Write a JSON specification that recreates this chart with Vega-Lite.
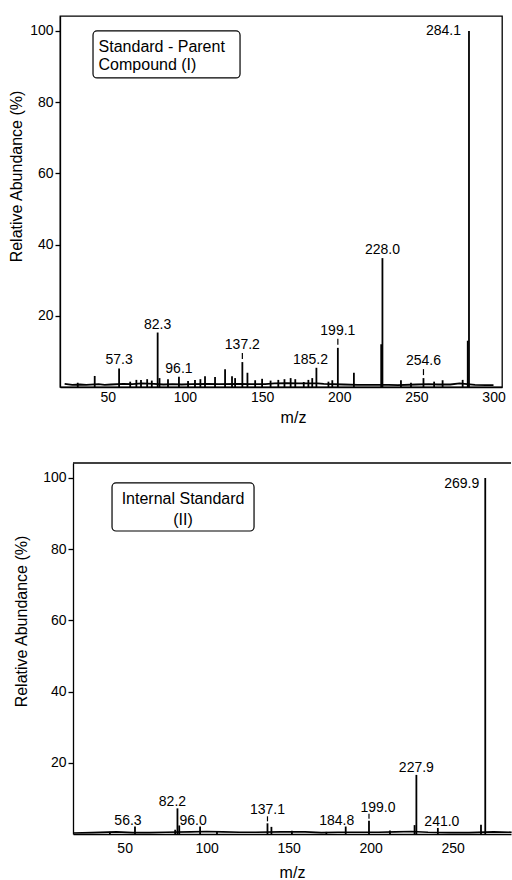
{
  "$schema": "https://vega.github.io/schema/vega-lite/v6.json",
  "background": "white",
  "padding": {"left": 7, "top": 15, "right": 0, "bottom": 0},
  "config": {
    "font": "Liberation Sans",
    "view": {"stroke": "black", "strokeWidth": 1.3},
    "axis": {
      "grid": false,
      "labelFont": "Liberation Sans",
      "titleFont": "Liberation Sans",
      "labelColor": "black",
      "titleColor": "black",
      "domainColor": "black",
      "tickColor": "black",
      "domainWidth": 1.3,
      "tickWidth": 1.3,
      "labelFontSize": 14,
      "titleFontSize": 16,
      "titleFontWeight": "normal"
    },
    "text": {"font": "Liberation Sans", "color": "black", "fontSize": 14},
    "rule": {"color": "black"}
  },
  "datasets": {
    "peaksI": [
      {"mz": 30.5, "ab": 1.2}, {"mz": 41.5, "ab": 3.1}, {"mz": 57.3, "ab": 5.2, "label": "57.3"},
      {"mz": 64.5, "ab": 1.5}, {"mz": 68.5, "ab": 2.0}, {"mz": 71.5, "ab": 2.0}, {"mz": 75.5, "ab": 2.2},
      {"mz": 78.5, "ab": 1.8}, {"mz": 82.3, "ab": 15.3, "label": "82.3"}, {"mz": 83.5, "ab": 2.5},
      {"mz": 89, "ab": 2.2}, {"mz": 96.1, "ab": 2.9, "label": "96.1"}, {"mz": 102, "ab": 1.7},
      {"mz": 106.5, "ab": 2.0}, {"mz": 110, "ab": 2.2}, {"mz": 113, "ab": 3.0}, {"mz": 119.5, "ab": 2.8},
      {"mz": 126, "ab": 5.0}, {"mz": 130.5, "ab": 3.0}, {"mz": 132.5, "ab": 2.5},
      {"mz": 137.2, "ab": 7.0, "label": "137.2"}, {"mz": 140.5, "ab": 4.0}, {"mz": 145.5, "ab": 1.9},
      {"mz": 150, "ab": 2.3}, {"mz": 155.5, "ab": 1.8}, {"mz": 160.5, "ab": 2.0}, {"mz": 164.5, "ab": 2.2},
      {"mz": 168.5, "ab": 2.5}, {"mz": 171.5, "ab": 2.2}, {"mz": 177, "ab": 1.4}, {"mz": 180, "ab": 2.0},
      {"mz": 182.5, "ab": 2.5}, {"mz": 185.2, "ab": 5.4, "label": "185.2"}, {"mz": 193, "ab": 1.5},
      {"mz": 195.5, "ab": 1.9}, {"mz": 199.1, "ab": 11.0, "label": "199.1"}, {"mz": 209.5, "ab": 4.0},
      {"mz": 227.2, "ab": 12.0}, {"mz": 228.0, "ab": 36.2, "label": "228.0"}, {"mz": 240, "ab": 1.9},
      {"mz": 246.5, "ab": 1.2}, {"mz": 254.6, "ab": 2.5, "label": "254.6"}, {"mz": 261.5, "ab": 1.5},
      {"mz": 267, "ab": 1.9}, {"mz": 280, "ab": 2.0}, {"mz": 283.3, "ab": 13.0},
      {"mz": 284.1, "ab": 100, "label": "284.1"}
    ],
    "baseI": [
      {"mz": 22, "ab": 0.9}, {"mz": 27, "ab": 0.6}, {"mz": 32, "ab": 0.7}, {"mz": 36, "ab": 0.6},
      {"mz": 44, "ab": 0.8}, {"mz": 48, "ab": 0.6}, {"mz": 52, "ab": 0.7}, {"mz": 60, "ab": 0.9},
      {"mz": 66, "ab": 0.8}, {"mz": 72, "ab": 1.0}, {"mz": 80, "ab": 0.9}, {"mz": 86, "ab": 0.7},
      {"mz": 92, "ab": 0.8}, {"mz": 98, "ab": 0.7}, {"mz": 104, "ab": 0.8}, {"mz": 115, "ab": 0.9},
      {"mz": 122, "ab": 0.8}, {"mz": 135, "ab": 0.9}, {"mz": 143, "ab": 0.8}, {"mz": 152, "ab": 0.8},
      {"mz": 158, "ab": 1.0}, {"mz": 166, "ab": 1.1}, {"mz": 174, "ab": 1.0}, {"mz": 186, "ab": 1.0},
      {"mz": 190, "ab": 0.9}, {"mz": 203, "ab": 0.7}, {"mz": 212, "ab": 0.6}, {"mz": 220, "ab": 0.6},
      {"mz": 232, "ab": 0.6}, {"mz": 238, "ab": 0.5}, {"mz": 250, "ab": 0.7}, {"mz": 258, "ab": 0.8},
      {"mz": 264, "ab": 0.7}, {"mz": 272, "ab": 0.7}, {"mz": 278, "ab": 1.0}, {"mz": 288, "ab": 0.6},
      {"mz": 295, "ab": 0.5}, {"mz": 300, "ab": 0.5}
    ],
    "peaksII": [
      {"mz": 41, "ab": 0.6}, {"mz": 56.3, "ab": 2.1, "label": "56.3"}, {"mz": 80.8, "ab": 1.2},
      {"mz": 82.2, "ab": 7.2, "label": "82.2"}, {"mz": 83.3, "ab": 2.4}, {"mz": 96.0, "ab": 2.1, "label": "96.0"},
      {"mz": 106.3, "ab": 0.7}, {"mz": 137.1, "ab": 3.0, "label": "137.1"}, {"mz": 139.5, "ab": 2.0},
      {"mz": 152, "ab": 0.9}, {"mz": 173, "ab": 0.6}, {"mz": 184.8, "ab": 2.1, "label": "184.8"},
      {"mz": 199.0, "ab": 3.7, "label": "199.0"}, {"mz": 211.8, "ab": 1.0}, {"mz": 226.8, "ab": 2.5},
      {"mz": 227.9, "ab": 16.6, "label": "227.9"}, {"mz": 241.0, "ab": 1.7, "label": "241.0"},
      {"mz": 267.3, "ab": 2.6}, {"mz": 269.9, "ab": 100, "label": "269.9"}
    ],
    "baseII": [
      {"mz": 18.5, "ab": 0.3}, {"mz": 30, "ab": 0.4}, {"mz": 45, "ab": 0.6}, {"mz": 55, "ab": 0.4},
      {"mz": 65, "ab": 0.4}, {"mz": 75, "ab": 0.5}, {"mz": 90, "ab": 0.6}, {"mz": 100, "ab": 0.7},
      {"mz": 110, "ab": 0.6}, {"mz": 120, "ab": 0.5}, {"mz": 130, "ab": 0.5}, {"mz": 145, "ab": 0.6},
      {"mz": 160, "ab": 0.6}, {"mz": 170, "ab": 0.4}, {"mz": 180, "ab": 0.5}, {"mz": 192, "ab": 0.5},
      {"mz": 205, "ab": 0.5}, {"mz": 215, "ab": 0.6}, {"mz": 225, "ab": 0.7}, {"mz": 235, "ab": 0.5},
      {"mz": 248, "ab": 0.4}, {"mz": 260, "ab": 0.4}, {"mz": 275, "ab": 0.6}, {"mz": 286, "ab": 0.5}
    ],
    "boxes": [{"panel": "I"}]
  },
  "resolve": {"scale": {"x": "independent", "y": "independent"}},
  "spacing": 36,
  "vconcat": [
    {
      "width": 442,
      "height": 371,
      "layer": [
        {
          "data": {"name": "baseI"},
          "mark": {"type": "line", "color": "black", "strokeWidth": 1.8},
          "encoding": {
            "x": {"field": "mz", "type": "quantitative", "scale": {"domain": [19, 305.5], "nice": false, "zero": false},
                  "axis": {"title": "m/z", "values": [50, 100, 150, 200, 250, 300], "ticks": false, "labelPadding": 3, "titlePadding": 5, "titleX": 233}},
            "y": {"field": "ab", "type": "quantitative", "scale": {"domain": [0, 104.2], "nice": false},
                  "axis": {"title": "Relative Abundance (%)", "values": [20, 40, 60, 80, 100], "tickSize": 5, "labelPadding": 2, "titlePadding": 5, "titleY": 160}}
          }
        },
        {
          "data": {"name": "peaksI"},
          "mark": {"type": "rule", "strokeWidth": 1.8},
          "encoding": {
            "x": {"field": "mz", "type": "quantitative"},
            "y": {"field": "ab", "type": "quantitative"},
            "y2": {"datum": 0}
          }
        },
        {
          "data": {"name": "peaksI"},
          "transform": [{"filter": "indexof(['57.3','82.3','96.1','228.0'], datum.label) >= 0"}],
          "mark": {"type": "text", "baseline": "bottom", "dy": -1},
          "encoding": {
            "x": {"field": "mz", "type": "quantitative"},
            "y": {"field": "ab", "type": "quantitative"},
            "text": {"field": "label"}
          }
        },
        {
          "data": {"name": "peaksI"},
          "transform": [{"filter": "datum.label == '185.2'"}],
          "mark": {"type": "text", "baseline": "bottom", "dy": -1, "dx": -6},
          "encoding": {
            "x": {"field": "mz", "type": "quantitative"},
            "y": {"field": "ab", "type": "quantitative"},
            "text": {"field": "label"}
          }
        },
        {
          "data": {"name": "peaksI"},
          "transform": [{"filter": "indexof(['137.2','199.1','254.6'], datum.label) >= 0"}],
          "mark": {"type": "text", "baseline": "bottom", "dy": -10},
          "encoding": {
            "x": {"field": "mz", "type": "quantitative"},
            "y": {"field": "ab", "type": "quantitative"},
            "text": {"field": "label"}
          }
        },
        {
          "data": {"name": "peaksI"},
          "transform": [{"filter": "indexof(['137.2','199.1','254.6'], datum.label) >= 0"}],
          "mark": {"type": "rule", "strokeWidth": 1.2, "yOffset": -3, "y2Offset": -9},
          "encoding": {
            "x": {"field": "mz", "type": "quantitative"},
            "y": {"field": "ab", "type": "quantitative"},
            "y2": {"field": "ab"}
          }
        },
        {
          "data": {"name": "peaksI"},
          "transform": [{"filter": "datum.label != null && datum.ab >= 99"}],
          "mark": {"type": "text", "align": "right", "baseline": "middle", "dx": -8, "dy": 0},
          "encoding": {
            "x": {"field": "mz", "type": "quantitative"},
            "y": {"field": "ab", "type": "quantitative"},
            "text": {"field": "label"}
          }
        },
        {
          "data": {"name": "boxes"},
          "mark": {"type": "rect", "fill": "white", "stroke": "black", "strokeWidth": 1.2, "cornerRadius": 4},
          "encoding": {
            "x": {"datum": 40.4}, "x2": {"datum": 135.7},
            "y": {"datum": 100}, "y2": {"datum": 86.8}
          }
        },
        {
          "data": {"name": "boxes"},
          "mark": {"type": "text", "align": "left", "baseline": "middle", "fontSize": 16, "lineHeight": 18,
                   "text": ["Standard - Parent", "Compound  (I)"]},
          "encoding": {"x": {"datum": 44.0}, "y": {"datum": 95.5}}
        }
      ]
    },
    {
      "hconcat": [
        {
          "width": 13,
          "height": 1,
          "data": {"values": []},
          "mark": "point",
          "view": {"stroke": null}
        },
        {
          "width": 438,
          "height": 371,
          "view": {"stroke": null},
          "layer": [
            {
              "data": {"name": "baseII"},
              "mark": {"type": "line", "color": "black", "strokeWidth": 1.6},
              "encoding": {
                "x": {"field": "mz", "type": "quantitative", "scale": {"domain": [18.5, 285.6], "nice": false, "zero": false},
                      "axis": {"title": "m/z", "values": [50, 100, 150, 200, 250], "ticks": false, "labelPadding": 7, "titlePadding": 9, "titleX": 219}},
                "y": {"field": "ab", "type": "quantitative", "scale": {"domain": [0, 104.2], "nice": false},
                      "axis": {"title": "Relative Abundance (%)", "values": [20, 40, 60, 80, 100], "tickSize": 5, "labelPadding": 2, "titlePadding": 13, "titleY": 158}}
              }
            },
            {
              "data": {"name": "boxes"},
              "mark": {"type": "rule", "strokeWidth": 1.3},
              "encoding": {"y": {"datum": 104.2}}
            },
            {
              "data": {"name": "peaksII"},
              "mark": {"type": "rule", "strokeWidth": 1.8},
              "encoding": {
                "x": {"field": "mz", "type": "quantitative"},
                "y": {"field": "ab", "type": "quantitative"},
                "y2": {"datum": 0}
              }
            },
            {
              "data": {"name": "peaksII"},
              "transform": [{"filter": "datum.label == '227.9'"}],
              "mark": {"type": "text", "baseline": "bottom", "dy": 0},
              "encoding": {
                "x": {"field": "mz", "type": "quantitative"},
                "y": {"field": "ab", "type": "quantitative"},
                "text": {"field": "label"}
              }
            },
            {
              "data": {"name": "peaksII"},
              "transform": [{"filter": "indexof(['56.3','96.0'], datum.label) >= 0"}],
              "mark": {"type": "text", "baseline": "bottom", "dy": 1, "dx": -7},
              "encoding": {
                "x": {"field": "mz", "type": "quantitative"},
                "y": {"field": "ab", "type": "quantitative"},
                "text": {"field": "label"}
              }
            },
            {
              "data": {"name": "peaksII"},
              "transform": [{"filter": "datum.label == '82.2'"}],
              "mark": {"type": "text", "baseline": "bottom", "dy": 1, "dx": -5},
              "encoding": {
                "x": {"field": "mz", "type": "quantitative"},
                "y": {"field": "ab", "type": "quantitative"},
                "text": {"field": "label"}
              }
            },
            {
              "data": {"name": "peaksII"},
              "transform": [{"filter": "datum.label == '184.8'"}],
              "mark": {"type": "text", "baseline": "bottom", "dy": 1, "dx": -9},
              "encoding": {
                "x": {"field": "mz", "type": "quantitative"},
                "y": {"field": "ab", "type": "quantitative"},
                "text": {"field": "label"}
              }
            },
            {
              "data": {"name": "peaksII"},
              "transform": [{"filter": "datum.label == '241.0'"}],
              "mark": {"type": "text", "baseline": "bottom", "dy": 1, "dx": 4},
              "encoding": {
                "x": {"field": "mz", "type": "quantitative"},
                "y": {"field": "ab", "type": "quantitative"},
                "text": {"field": "label"}
              }
            },
            {
              "data": {"name": "peaksII"},
              "transform": [{"filter": "datum.label == '137.1'"}],
              "mark": {"type": "text", "baseline": "bottom", "dy": -6},
              "encoding": {
                "x": {"field": "mz", "type": "quantitative"},
                "y": {"field": "ab", "type": "quantitative"},
                "text": {"field": "label"}
              }
            },
            {
              "data": {"name": "peaksII"},
              "transform": [{"filter": "datum.label == '199.0'"}],
              "mark": {"type": "text", "baseline": "bottom", "dy": -6, "dx": 9},
              "encoding": {
                "x": {"field": "mz", "type": "quantitative"},
                "y": {"field": "ab", "type": "quantitative"},
                "text": {"field": "label"}
              }
            },
            {
              "data": {"name": "peaksII"},
              "transform": [{"filter": "indexof(['137.1','199.0'], datum.label) >= 0"}],
              "mark": {"type": "rule", "strokeWidth": 1.2, "yOffset": -2, "y2Offset": -7},
              "encoding": {
                "x": {"field": "mz", "type": "quantitative"},
                "y": {"field": "ab", "type": "quantitative"},
                "y2": {"field": "ab"}
              }
            },
            {
              "data": {"name": "peaksII"},
              "transform": [{"filter": "datum.label != null && datum.ab >= 99"}],
              "mark": {"type": "text", "align": "right", "baseline": "middle", "dx": -6, "dy": 6},
              "encoding": {
                "x": {"field": "mz", "type": "quantitative"},
                "y": {"field": "ab", "type": "quantitative"},
                "text": {"field": "label"}
              }
            },
            {
              "data": {"name": "boxes"},
              "mark": {"type": "rect", "fill": "white", "stroke": "black", "strokeWidth": 1.2, "cornerRadius": 4},
              "encoding": {
                "x": {"datum": 42.3}, "x2": {"datum": 128.9},
                "y": {"datum": 98.6}, "y2": {"datum": 85.1}
              }
            },
            {
              "data": {"name": "boxes"},
              "mark": {"type": "text", "align": "center", "baseline": "middle", "fontSize": 16, "lineHeight": 21,
                       "text": ["Internal Standard", "(II)"]},
              "encoding": {"x": {"datum": 85.6}, "y": {"datum": 94.1}}
            }
          ]
        }
      ],
      "spacing": 0,
      "bounds": "flush",
      "resolve": {"scale": {"x": "independent", "y": "independent"}}
    }
  ]
}
